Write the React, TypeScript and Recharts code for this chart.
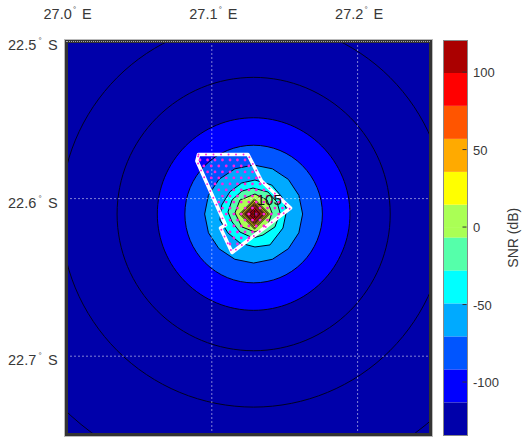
import { ScatterChart, Scatter, XAxis, YAxis, BarChart, Bar } from "recharts";

type Pair = [number, number];

const FONT = '"Liberation Sans", Arial, sans-serif';
const TEXT = "#383838";

const lonTicks = [27.0, 27.1, 27.2];
const latTicks = [-22.5, -22.6, -22.7];
const snrTicks = [-100, -50, 0, 50, 100];

const ringZ: Pair[] = [
  [27.3202, -22.6098], [27.3056, -22.542], [27.2641, -22.4845], [27.202, -22.4461],
  [27.1287, -22.4326], [27.0554, -22.4461], [26.9933, -22.4845], [26.9518, -22.542],
  [26.9372, -22.6098], [26.9518, -22.6776], [26.9933, -22.7351], [27.0554, -22.7735],
  [27.1287, -22.787], [27.202, -22.7735], [27.2641, -22.7351], [27.3056, -22.6776],
];
const ringA: Pair[] = [
  [27.2645, -22.6098], [27.2542, -22.5617], [27.2247, -22.5209], [27.1807, -22.4937],
  [27.1287, -22.4841], [27.0767, -22.4937], [27.0327, -22.5209], [27.0032, -22.5617],
  [26.9929, -22.6098], [27.0032, -22.6579], [27.0327, -22.6987], [27.0767, -22.7259],
  [27.1287, -22.7355], [27.1807, -22.7259], [27.2247, -22.6987], [27.2542, -22.6579],
];
const ringB: Pair[] = [
  [27.2248, -22.6098], [27.2175, -22.5757], [27.1966, -22.5469], [27.1655, -22.5276],
  [27.1287, -22.5208], [27.0919, -22.5276], [27.0608, -22.5469], [27.0399, -22.5757],
  [27.0326, -22.6098], [27.0399, -22.6439], [27.0608, -22.6727], [27.0919, -22.692],
  [27.1287, -22.6988], [27.1655, -22.692], [27.1966, -22.6727], [27.2175, -22.6439],
];
const ringC: Pair[] = [
  [27.1965, -22.6098], [27.1913, -22.5858], [27.1766, -22.5655], [27.1547, -22.5519],
  [27.1287, -22.5471], [27.1027, -22.5519], [27.0808, -22.5655], [27.0661, -22.5858],
  [27.0609, -22.6098], [27.0661, -22.6338], [27.0808, -22.6541], [27.1027, -22.6677],
  [27.1287, -22.6725], [27.1547, -22.6677], [27.1766, -22.6541], [27.1913, -22.6338],
];
const ringD: Pair[] = [
  [27.1771, -22.6098], [27.1734, -22.5927], [27.1629, -22.5781], [27.1472, -22.5684],
  [27.1287, -22.565], [27.1102, -22.5684], [27.0945, -22.5781], [27.084, -22.5927],
  [27.0803, -22.6098], [27.084, -22.6269], [27.0945, -22.6415], [27.1102, -22.6512],
  [27.1287, -22.6546], [27.1472, -22.6512], [27.1629, -22.6415], [27.1734, -22.6269],
];

// inner contours, faceted like the source grid
const ringE: Pair[] = [
  [27.1623, -22.6098], [27.1597, -22.5979], [27.1525, -22.5878], [27.1416, -22.5811],
  [27.1287, -22.5787], [27.1158, -22.5811], [27.1049, -22.5878], [27.0977, -22.5979],
  [27.0951, -22.6098], [27.0977, -22.6217], [27.1049, -22.6318], [27.1158, -22.6385],
  [27.1287, -22.6409], [27.1416, -22.6385], [27.1525, -22.6318], [27.1597, -22.6217],
];
const ringF: Pair[] = [
  [27.1296, -22.5882], [27.1411, -22.5914], [27.1479, -22.5988], [27.1514, -22.6072],
  [27.1488, -22.6187], [27.1399, -22.6294], [27.1296, -22.6307], [27.1193, -22.6282],
  [27.1111, -22.6218], [27.1056, -22.6136], [27.1068, -22.6041], [27.1125, -22.5956],
  [27.1205, -22.5901],
];
const ringG: Pair[] = [
  [27.1283, -22.5933], [27.1385, -22.5958], [27.1447, -22.6022], [27.1468, -22.6091],
  [27.1433, -22.618], [27.1351, -22.6231], [27.1283, -22.625], [27.1193, -22.6212],
  [27.1139, -22.6148], [27.1111, -22.6085], [27.1139, -22.6009], [27.1207, -22.5952],
];
const ringH: Pair[] = [
  [27.1296, -22.5971], [27.1379, -22.6009], [27.1413, -22.6091], [27.1379, -22.618],
  [27.1296, -22.6212], [27.1207, -22.618], [27.1159, -22.6091], [27.1193, -22.6009],
];
const ringI: Pair[] = [[27.1293, -22.6003], [27.1396, -22.6098], [27.1293, -22.6193], [27.119, -22.6098]];
const ringJ: Pair[] = [[27.1293, -22.6022], [27.1375, -22.6098], [27.1293, -22.6174], [27.1211, -22.6098]];
const ringK: Pair[] = [[27.1293, -22.6038], [27.1358, -22.6098], [27.1293, -22.6158], [27.1228, -22.6098]];
const ringL: Pair[] = [[27.1293, -22.6054], [27.1341, -22.6098], [27.1293, -22.6142], [27.1245, -22.6098]];
const ringM: Pair[] = [[27.1293, -22.6073], [27.132, -22.6098], [27.1293, -22.6123], [27.1266, -22.6098]];

// extra contour levels packed into the peak
const peakLineA: Pair[] = [[27.1293, -22.6012], [27.1386, -22.6098], [27.1293, -22.6184], [27.12, -22.6098]];
const peakLineB: Pair[] = [[27.1293, -22.603], [27.1367, -22.6098], [27.1293, -22.6166], [27.1219, -22.6098]];
const peakLineC: Pair[] = [[27.1293, -22.6046], [27.135, -22.6098], [27.1293, -22.615], [27.1236, -22.6098]];
const peakLineD: Pair[] = [[27.1293, -22.6063], [27.1331, -22.6098], [27.1293, -22.6133], [27.1255, -22.6098]];

const footprint: Pair[] = [
  [27.0909, -22.572], [27.1248, -22.572], [27.1341, -22.5888], [27.154, -22.606],
  [27.1139, -22.6342], [27.106, -22.6187], [27.1094, -22.6168], [27.0898, -22.5761],
];

const dotLats = [
  -22.5755, -22.5793, -22.5831, -22.5869, -22.5907, -22.5945, -22.5984, -22.6022,
  -22.606, -22.6098, -22.6136, -22.6174, -22.6212, -22.625, -22.6288,
];
const dotLons = [
  [27.0919, 27.0971, 27.1022, 27.1073, 27.1125, 27.1176, 27.1228],
  [27.0945, 27.0996, 27.1048, 27.1099, 27.1151, 27.1202, 27.1254],
  [27.0971, 27.1022, 27.1073, 27.1125, 27.1176, 27.1228, 27.1279],
  [27.0996, 27.1048, 27.1099, 27.1151, 27.1202, 27.1254, 27.1305],
  [27.1022, 27.1073, 27.1125, 27.1176, 27.1228, 27.1279, 27.1331],
  [27.1048, 27.1099, 27.1151, 27.1202, 27.1254, 27.1305, 27.1357],
  [27.1073, 27.1125, 27.1176, 27.1228, 27.1279, 27.1331, 27.1382, 27.1433],
  [27.1048, 27.1099, 27.1151, 27.1202, 27.1254, 27.1305, 27.1357, 27.1408, 27.1459],
  [27.1073, 27.1125, 27.1176, 27.1228, 27.1279, 27.1331, 27.1382, 27.1433, 27.1485],
  [27.1099, 27.1151, 27.1202, 27.1254, 27.1305, 27.1357, 27.1408, 27.1459],
  [27.1125, 27.1176, 27.1228, 27.1279, 27.1331, 27.1382],
  [27.1151, 27.1202, 27.1254, 27.1305, 27.1357],
  [27.1125, 27.1176, 27.1228, 27.1279],
  [27.1151, 27.1202, 27.1254],
  [27.1125, 27.1176],
];

const peakPoint: Pair[] = [[27.1293, -22.6098]];
const peakLabelPoint: Pair[] = [[27.1308, -22.6038]];
const peakLabel = "105";

const snrLevels = [-134.5, -113.2, -92, -70.7, -49.4, -28.2, -6.9, 14.4, 35.6, 56.9, 78.2, 99.4, 120.7];
const bandColors = [
  "#0000AA", "#0000FF", "#0055FF", "#00AAFF", "#00FFFF", "#55FFAA",
  "#AAFF55", "#FFFF00", "#FFAA00", "#FF5500", "#FF0000", "#AA0000",
];

const toPoints = (pairs: Pair[]) => pairs.map(([x, y]) => ({ x, y }));
const noDot = () => <g />;

const smoothRings: [Pair[], string][] = [
  [ringZ, "none"],
  [ringA, "none"],
  [ringB, "none"],
  [ringC, bandColors[1]],
  [ringD, bandColors[2]],
];
const facetRings: [Pair[], string][] = [
  [ringE, bandColors[3]],
  [ringF, bandColors[4]],
  [ringG, bandColors[5]],
  [ringH, bandColors[6]],
  [ringI, bandColors[7]],
  [peakLineA, "none"],
  [ringJ, bandColors[8]],
  [peakLineB, "none"],
  [ringK, bandColors[9]],
  [peakLineC, "none"],
  [ringL, bandColors[10]],
  [peakLineD, "none"],
  [ringM, bandColors[11]],
];

const dots = dotLats.flatMap((y, i) => dotLons[i].map((x) => ({ x, y })));

const bandRow: Record<string, number | string> = { name: "SNR" };
bandColors.forEach((_, i) => {
  const low = snrLevels[i];
  const high = snrLevels[i + 1];
  bandRow[`p${i}`] = Math.max(high, 0) - Math.max(low, 0);
  bandRow[`n${i}`] = Math.min(low, 0) - Math.min(high, 0);
});
const negOrder = bandColors.map((_, i) => bandColors.length - 1 - i);

function LonTick({ x, payload }: any) {
  return (
    <text x={x - 22.5} y={18.5} fontFamily={FONT} fontSize={14.5} fill={TEXT}>
      {payload.value.toFixed(1)}
      <tspan x={x + 7} dy={-7} fontSize={8}>°</tspan>
      <tspan x={x + 16} dy={7}>E</tspan>
    </text>
  );
}

function LatTick({ y, payload }: any) {
  return (
    <text x={8} y={y + 9} fontFamily={FONT} fontSize={14.5} fill={TEXT}>
      {Math.abs(payload.value).toFixed(1)}
      <tspan x={38.5} dy={-7} fontSize={8}>°</tspan>
      <tspan x={48} dy={7}>S</tspan>
    </text>
  );
}

function SnrTick({ x, y, payload }: any) {
  return (
    <g>
      <line x1={x - 13} x2={x - 9} y1={y} y2={y} stroke="#333" strokeWidth={1} />
      <text x={x - 2.5} y={y + 5} fontFamily={FONT} fontSize={13} fill={TEXT}>
        {payload.value}
      </text>
    </g>
  );
}

export default function App() {
  return (
    <div style={{ position: "absolute", left: 0, top: 0, width: 522, height: 437, background: "#fff", overflow: "hidden" }}>
      <div style={{ position: "absolute", left: 0, top: 0 }}>
        <ScatterChart width={522} height={437} margin={{ top: 0, right: 91.5, bottom: 2, left: 0 }}>
          <XAxis
            type="number"
            dataKey="x"
            orientation="top"
            height={41}
            domain={[27, 27.25]}
            ticks={lonTicks}
            allowDataOverflow
            axisLine={false}
            tickLine={false}
            tick={<LonTick />}
          />
          <YAxis
            type="number"
            dataKey="y"
            width={66}
            domain={[-22.75, -22.5]}
            ticks={latTicks}
            allowDataOverflow
            axisLine={false}
            tickLine={false}
            tick={<LatTick />}
          />
          <Scatter
            data={toPoints([[26.9, -22.4], [27.4, -22.4], [27.4, -22.9], [26.9, -22.9]])}
            shape={noDot}
            line={{ fill: bandColors[0], stroke: "none" }}
            lineJointType="linearClosed"
            isAnimationActive={false}
          />
          {smoothRings.map(([ring, fill], i) => (
            <Scatter
              key={`smooth-${i}`}
              data={toPoints(ring)}
              shape={noDot}
              line={{ fill, stroke: "#000022", strokeWidth: 1 }}
              lineJointType="basisClosed"
              isAnimationActive={false}
            />
          ))}
          {facetRings.map(([ring, fill], i) => (
            <Scatter
              key={`facet-${i}`}
              data={toPoints(ring)}
              shape={noDot}
              line={{ fill, stroke: "#000022", strokeWidth: i > 4 ? 0.8 : 1 }}
              lineJointType="linearClosed"
              isAnimationActive={false}
            />
          ))}
          {lonTicks.slice(1).map((lon) => (
            <Scatter
              key={`lon-${lon}`}
              data={toPoints([[lon, -22.5], [lon, -22.75]])}
              shape={noDot}
              line={{ stroke: "#ffffff", strokeWidth: 1, strokeOpacity: 0.5, strokeDasharray: "2 2" }}
              isAnimationActive={false}
            />
          ))}
          {latTicks.slice(1).map((lat) => (
            <Scatter
              key={`lat-${lat}`}
              data={toPoints([[27, lat], [27.25, lat]])}
              shape={noDot}
              line={{ stroke: "#ffffff", strokeWidth: 1, strokeOpacity: 0.5, strokeDasharray: "2 2" }}
              isAnimationActive={false}
            />
          ))}
          <Scatter
            data={toPoints(footprint)}
            shape={noDot}
            line={{ fill: "none", stroke: "#ffffff", strokeWidth: 3.6, strokeLinejoin: "round" }}
            lineJointType="linearClosed"
            isAnimationActive={false}
          />
          <Scatter
            data={toPoints(footprint)}
            shape={noDot}
            line={{ fill: "none", stroke: "#ff22dd", strokeWidth: 1.9, strokeLinecap: "round", strokeDasharray: "0 7.5" }}
            lineJointType="linearClosed"
            isAnimationActive={false}
          />
          <Scatter
            data={dots}
            isAnimationActive={false}
            shape={(p: any) => <circle cx={p.cx} cy={p.cy} r={1.4} fill="#ff22dd" />}
          />
          <Scatter
            data={toPoints(peakPoint)}
            isAnimationActive={false}
            shape={(p: any) => (
              <path d={`M${p.cx - 4} ${p.cy}H${p.cx + 4}M${p.cx} ${p.cy - 4}V${p.cy + 4}`} stroke="#111" strokeWidth={0.8} />
            )}
          />
          <Scatter
            data={toPoints(peakLabelPoint)}
            isAnimationActive={false}
            shape={(p: any) => (
              <text x={p.cx} y={p.cy} fontFamily={FONT} fontSize={15} fill="#111">
                {peakLabel}
              </text>
            )}
          />
        </ScatterChart>
      </div>

      <div style={{ position: "absolute", left: 65, top: 40, width: 366.5, height: 396, boxSizing: "border-box", border: "3px solid #333", outline: "1px solid #bbb", pointerEvents: "none" }} />
      <div style={{ position: "absolute", left: 66, top: 41, width: 364, height: 0, borderTop: "1px dotted #aaa", pointerEvents: "none" }} />

      <div style={{ position: "absolute", left: 443, top: 40 }}>
        <BarChart
          width={79}
          height={395.5}
          data={[bandRow]}
          stackOffset="sign"
          barCategoryGap={0}
          margin={{ top: 0, right: 0, bottom: 0, left: 0 }}
        >
          <XAxis dataKey="name" hide />
          <YAxis
            orientation="right"
            width={54.5}
            domain={[-134.5, 120.7]}
            ticks={snrTicks}
            axisLine={false}
            tickLine={false}
            tick={<SnrTick />}
            label={{ value: "SNR (dB)", angle: -90, position: "insideRight", offset: 9, textAnchor: "middle", fontFamily: FONT, fontSize: 14, fill: TEXT }}
          />
          {negOrder.map((i) => (
            <Bar key={`n${i}`} dataKey={`n${i}`} stackId="snr" fill={bandColors[i]} isAnimationActive={false} />
          ))}
          {bandColors.map((color, i) => (
            <Bar key={`p${i}`} dataKey={`p${i}`} stackId="snr" fill={color} isAnimationActive={false} />
          ))}
        </BarChart>
      </div>
      <div style={{ position: "absolute", left: 442.5, top: 39.5, width: 25, height: 396, boxSizing: "border-box", border: "1px solid #888", pointerEvents: "none" }} />
    </div>
  );
}
